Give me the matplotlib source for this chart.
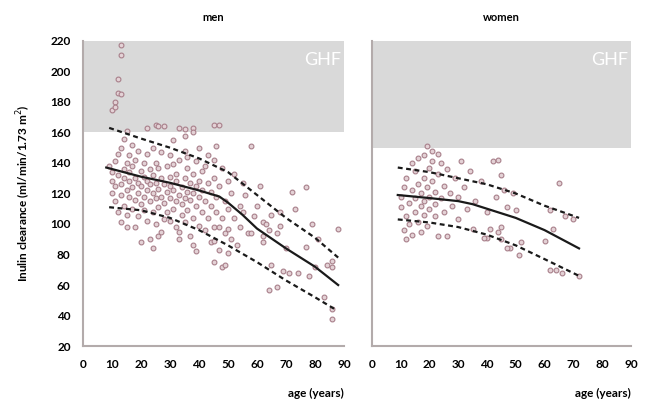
import numpy as np
import matplotlib.pyplot as plt

# men: scatter points (age, inulin clearance)
men_age = [10, 11, 12, 12, 13, 13, 13, 11,
           9, 10, 10, 10, 11, 11, 11, 12, 12, 12, 13, 13, 13, 13, 14, 14, 14, 14, 15, 15, 15, 15, 15, 16, 16, 16, 16,
           17, 17, 17, 17, 18, 18, 18, 18, 19, 19, 19, 19, 20, 20, 20, 20, 21, 21, 21, 21, 22, 22, 22, 22, 22,
           23, 23, 23, 23, 24, 24, 24, 24, 24, 25, 25, 25, 25, 25,
           26, 26, 26, 26, 26, 27, 27, 27, 27, 28, 28, 28, 28, 29, 29, 29, 30, 30, 30, 30, 30, 31, 31, 31, 31,
           32, 32, 32, 32, 33, 33, 33, 33, 33, 34, 34, 34, 35, 35, 35, 35, 35, 35,
           36, 36, 36, 36, 37, 37, 37, 38, 38, 38, 38, 38, 38, 39, 39, 39, 39, 40, 40, 40, 40, 41, 41, 41,
           42, 42, 42, 43, 43, 43, 44, 44, 44, 45, 45, 45, 45, 45, 45,
           46, 46, 46, 47, 47, 47, 47, 48, 48, 48, 49, 49, 49, 50, 50, 50, 50, 51, 51, 52, 52, 53, 54, 54, 55, 55,
           56, 57, 58, 58, 59, 60, 61, 62, 62, 62, 63, 64, 64, 65, 65,
           67, 67, 68, 68, 69, 70, 71, 72, 73, 74, 77, 77, 78, 79, 80, 81, 83, 84, 86, 86, 86, 86, 88]
men_gfr = [175, 180, 195, 186, 185, 211, 217, 177,
           138, 128, 120, 134, 115, 125, 141, 108, 132, 146, 119, 126, 101, 150, 136, 112, 156, 130, 122, 161, 98, 140, 106, 118, 134, 128, 145,
           110, 124, 138, 152, 98, 116, 130, 142, 120, 127, 105, 148, 88, 113, 135, 125, 118, 131, 140, 109, 163, 122, 102, 128, 146,
           90, 115, 136, 126, 84, 108, 120, 132, 150, 165, 100, 117, 140, 127,
           164, 92, 111, 123, 137, 95, 118, 130, 147, 164, 103, 126, 114, 138, 121, 108, 102, 117, 131, 145, 125, 110, 122, 139, 155,
           98, 115, 128, 133, 163, 95, 90, 119, 142, 106, 124, 113, 162, 101, 117, 130, 148, 158,
           109, 121, 137, 144, 92, 116, 127, 163, 160, 86, 104, 133, 120, 82, 112, 141, 125, 99, 118, 128, 150, 108, 122, 135,
           96, 115, 138, 104, 127, 145, 88, 112, 121, 165, 75, 89, 98, 130, 142,
           108, 118, 151, 83, 98, 125, 165, 72, 104, 137, 73, 94, 115, 81, 97, 110, 128, 90, 120, 104, 133, 86, 112, 98, 127, 108,
           119, 94, 151, 94, 105, 112, 125, 92, 88, 101, 100, 57, 96, 73, 106,
           94, 59, 99, 108, 69, 84, 68, 121, 110, 68, 85, 124, 66, 100, 72, 90, 52, 73, 76, 72, 44, 38, 97]

# men: percentile curves
men_curve_age = [8, 20, 30, 40, 47, 50, 55, 60, 70, 80, 88]
men_median = [137, 131, 127, 122, 118, 114, 106, 97, 84, 72, 60]
men_up_age = [9, 20, 30, 40, 50, 60, 70, 80, 88]
men_upper = [163, 156, 150, 143, 134, 119, 104, 91, 78]
men_lo_age = [9, 20, 30, 40, 50, 60, 70, 80, 87]
men_lower = [111, 109, 104, 96, 86, 75, 63, 52, 44]

# women: scatter points
women_age = [10, 10, 11, 11, 12, 12, 12, 13, 13, 14, 14, 14, 15, 15, 15, 16, 16, 16, 17, 17, 17,
             18, 18, 18, 18, 19, 19, 19, 20, 20, 20, 21, 21, 21, 22, 22, 22, 23, 23, 23, 24, 24, 25, 25,
             26, 26, 27, 28, 29, 30, 30, 31, 32, 33, 34, 35, 36, 38, 40, 40, 41, 42, 43, 44, 45, 45, 46,
             47, 48, 49, 50, 51, 52, 60, 62, 62, 63, 64, 65, 66, 67, 70, 72, 39, 44, 45, 47]
women_gfr = [118, 111, 96, 124, 90, 105, 130, 114, 100, 122, 140, 93, 108, 117, 135, 101, 126, 143, 112, 95, 120,
             145, 130, 106, 115, 151, 124, 99, 137, 110, 118, 148, 141, 128, 105, 121, 113, 146, 133, 92, 140, 117, 125, 108,
             92, 136, 120, 112, 130, 103, 118, 141, 124, 110, 135, 97, 115, 128, 91, 108, 97, 141, 118, 142, 132, 98, 122,
             111, 84, 120, 109, 80, 88, 89, 109, 70, 97, 70, 127, 68, 105, 103, 66, 91, 95, 90, 84]

# women: percentile curves
women_curve_age = [9, 20, 30, 35, 40, 50, 60, 72]
women_median = [119, 117, 115, 113, 110, 104, 96, 84]
women_up_age = [9, 20, 30, 40, 50, 60, 72]
women_upper = [137, 134, 130, 126, 120, 112, 104]
women_lo_age = [9, 20, 30, 40, 50, 60, 72]
women_lower = [103, 101, 98, 93, 86, 77, 66]

x_ticks = [0, 10, 20, 30, 40, 50, 60, 70, 80, 90]
y_ticks = [20, 40, 60, 80, 100, 120, 140, 160, 180, 200, 220]

plt.rcParams['font.family'] = ['Lato', 'DejaVu Sans']

fig = plt.figure(figsize=(6.49, 4.01), dpi=100)
ax1 = fig.add_axes([0.128, 0.137, 0.402, 0.761])
ax2 = fig.add_axes([0.573, 0.137, 0.399, 0.761])

spine_col = '#b3abab'
dash = (0, (2.2, 1.6))

panels = [
    (ax1, 'men', 160, men_age, men_gfr,
     (men_curve_age, men_median), (men_up_age, men_upper), (men_lo_age, men_lower)),
    (ax2, 'women', 150, women_age, women_gfr,
     (women_curve_age, women_median), (women_up_age, women_upper), (women_lo_age, women_lower)),
]

for ax, title, ghf, ages, vals, med, up, lo in panels:
    ax.axhspan(ghf, 220, color='#d9d9d9', lw=0, zorder=0)
    ax.text(89, 213, 'GHF', color='white', fontsize=13, ha='right', va='top')
    ax.scatter(ages, vals, s=12, facecolor='#e4d2d6', edgecolor='#a87f8a',
               linewidths=0.8, zorder=2)
    ax.plot(med[0], med[1], color='#1a1a1a', lw=1.6, zorder=3)
    ax.plot(up[0], up[1], color='#1a1a1a', lw=1.6, ls=dash, zorder=3)
    ax.plot(lo[0], lo[1], color='#1a1a1a', lw=1.6, ls=dash, zorder=3)

    ax.set_xlim(0, 90)
    ax.set_ylim(20, 220)
    ax.set_xticks(x_ticks)
    ax.set_yticks(y_ticks)
    for s in ['top', 'right']:
        ax.spines[s].set_visible(False)
    for s in ['left', 'bottom']:
        ax.spines[s].set_color(spine_col)
        ax.spines[s].set_linewidth(1.5)
    ax.tick_params(length=0, pad=9, labelsize=8.5)
    for lab in ax.get_xticklabels() + ax.get_yticklabels():
        lab.set_fontweight('bold')
    ax.set_title(title, fontsize=8, fontweight='bold', pad=14)
    ax.set_xlabel('age (years)', fontsize=8.5, fontweight='bold', loc='right', labelpad=13)

ax2.set_yticklabels([])
ax1.set_ylabel('Inulin clearance (ml/min/1.73 m$^2$)', fontsize=8.5, fontweight='bold', labelpad=12)

fig.savefig('out.png', dpi=100)
